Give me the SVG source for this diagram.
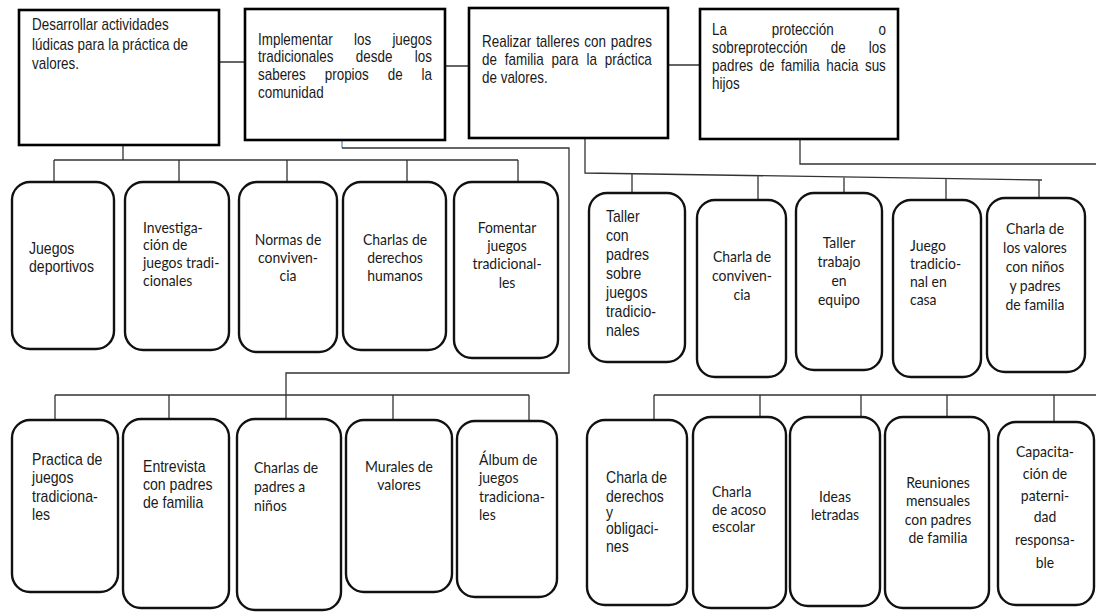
<svg xmlns="http://www.w3.org/2000/svg" width="1096" height="612" viewBox="0 0 1096 612">
<style>
.bg{fill:#fff}
.box{fill:#fff;stroke:#000;stroke-width:2.6}
.rb{fill:#fff;stroke:#111;stroke-width:2.4}
.ln{fill:none;stroke:#333;stroke-width:1.3}
.lb{fill:none;stroke:#5b8fd0;stroke-width:1.3}
.tt{font-family:"Liberation Sans",Arial,sans-serif;font-size:16px;fill:#1a1a1a}
.ta{font-family:"Liberation Sans",Arial,sans-serif;font-size:16px;fill:#1a1a1a}
.tc{font-family:Lato,"Open Sans",sans-serif;font-size:15.5px;fill:#1a1a1a}
.m{text-anchor:middle}
</style>
<rect class="bg" width="1096" height="612"/>
<g id="connectors">
<path class="ln" d="M219,62H245M445,66H469M668,65H700"/>
<path class="ln" d="M123,145V160M54,160H518M54,160V182M179,160V182M287,160V182M407,160V182M518,160V182"/>
<path class="lb" d="M342,140V148"/>
<path class="ln" d="M342,148H569V373H286V420M55,395H529M55,395V420M169,395V419M393,395V420M529,395V421"/>
<path class="ln" d="M585,138V173L1042,180M632,174V193M758,176V200M844,177V193M946,179V200M1039,180V198"/>
<path class="ln" d="M800,139V164H1096"/>
<path class="ln" d="M654,395H1096M654,395V420M760,395V417M861,395V417M947,395V417M1054,395V422"/>
</g>
<g id="n1"><rect class="box" x="19" y="10" width="200" height="135"/>
<text class="tt" transform="translate(32,30) scale(.84,1)">Desarrollar actividades</text>
<text class="tt" transform="translate(32,50) scale(.84,1)">lúdicas para la práctica de</text>
<text class="tt" transform="translate(32,69) scale(.84,1)">valores.</text></g>
<g id="n2"><rect class="box" x="245" y="9" width="200" height="131"/>
<text class="tt" transform="translate(258,45) scale(.84,1)" style="word-spacing:20.9px">Implementar los juegos</text>
<text class="tt" transform="translate(258,62) scale(.84,1)" style="word-spacing:22.2px">tradicionales desde los</text>
<text class="tt" transform="translate(258,80) scale(.84,1)" style="word-spacing:18.1px">saberes propios de la</text>
<text class="tt" transform="translate(258,98) scale(.84,1)">comunidad</text></g>
<g id="n3"><rect class="box" x="469" y="8" width="199" height="130"/>
<text class="tt" transform="translate(482,47) scale(.84,1)" style="word-spacing:1.35px">Realizar talleres con padres</text>
<text class="tt" transform="translate(482,65) scale(.84,1)" style="word-spacing:5px">de familia para la práctica</text>
<text class="tt" transform="translate(482,83) scale(.84,1)">de valores.</text></g>
<g id="n4"><rect class="box" x="700" y="9" width="198" height="130"/>
<text class="tt" transform="translate(712,35) scale(.84,1)" style="word-spacing:48.9px">La protección o</text>
<text class="tt" transform="translate(712,53) scale(.84,1)" style="word-spacing:23.1px">sobreprotección de los</text>
<text class="tt" transform="translate(712,71) scale(.84,1)" style="word-spacing:3.3px">padres de familia hacia sus</text>
<text class="tt" transform="translate(712,89) scale(.84,1)">hijos</text></g>
<g id="a"><rect class="rb" x="12" y="182" width="102" height="167" rx="18"/>
<text class="ta" transform="translate(29,254) scale(.88,1)">Juegos</text><text class="ta" transform="translate(29,272) scale(.88,1)">deportivos</text></g>
<g id="b"><rect class="rb" x="125" y="182" width="104" height="168" rx="18"/>
<text class="tc" transform="translate(143,233) scale(.9,1)">Investiga-</text><text class="tc" transform="translate(143,250) scale(.9,1)">ción de</text><text class="tc" transform="translate(143,268) scale(.9,1)">juegos tradi-</text><text class="tc" transform="translate(143,286) scale(.9,1)">cionales</text></g>
<g id="c"><rect class="rb" x="239" y="182" width="98" height="170" rx="18"/>
<text class="tc m" transform="translate(288,245) scale(.9,1)">Normas de</text><text class="tc m" transform="translate(288,263) scale(.9,1)">conviven-</text><text class="tc m" transform="translate(288,281) scale(.9,1)">cia</text></g>
<g id="d"><rect class="rb" x="343" y="182" width="103" height="168" rx="18"/>
<text class="tc m" transform="translate(395,245) scale(.9,1)">Charlas de</text><text class="tc m" transform="translate(395,263) scale(.9,1)">derechos</text><text class="tc m" transform="translate(395,281) scale(.9,1)">humanos</text></g>
<g id="e"><rect class="rb" x="454" y="182" width="104" height="176" rx="18"/>
<text class="tc m" transform="translate(507,233) scale(.9,1)">Fomentar</text><text class="tc m" transform="translate(507,251) scale(.9,1)">juegos</text><text class="tc m" transform="translate(507,269) scale(.9,1)">tradicional-</text><text class="tc m" transform="translate(507,288) scale(.9,1)">les</text></g>
<g id="k"><rect class="rb" x="589" y="193" width="96" height="169" rx="18"/>
<text class="ta" transform="translate(606,222) scale(.88,1)">Taller</text><text class="ta" transform="translate(606,241) scale(.88,1)">con</text><text class="ta" transform="translate(606,260) scale(.88,1)">padres</text><text class="ta" transform="translate(606,279) scale(.88,1)">sobre</text><text class="ta" transform="translate(606,298) scale(.88,1)">juegos</text><text class="ta" transform="translate(606,317) scale(.88,1)">tradicio-</text><text class="ta" transform="translate(606,336) scale(.88,1)">nales</text></g>
<g id="l"><rect class="rb" x="697" y="200" width="89" height="177" rx="18"/>
<text class="tc m" transform="translate(742,262) scale(.9,1)">Charla de</text><text class="tc m" transform="translate(742,281) scale(.9,1)">conviven-</text><text class="tc m" transform="translate(742,300) scale(.9,1)">cia</text></g>
<g id="mm"><rect class="rb" x="796" y="193" width="86" height="177" rx="18"/>
<text class="tc m" transform="translate(839,248) scale(.9,1)">Taller</text><text class="tc m" transform="translate(839,267) scale(.9,1)">trabajo</text><text class="tc m" transform="translate(839,286) scale(.9,1)">en</text><text class="tc m" transform="translate(839,305) scale(.9,1)">equipo</text></g>
<g id="n"><rect class="rb" x="893" y="200" width="88" height="177" rx="18"/>
<text class="tc" transform="translate(910,251) scale(.9,1)">Juego</text><text class="tc" transform="translate(910,269) scale(.9,1)">tradicio-</text><text class="tc" transform="translate(910,287) scale(.9,1)">nal en</text><text class="tc" transform="translate(910,305) scale(.9,1)">casa</text></g>
<g id="o"><rect class="rb" x="987" y="198" width="98" height="174" rx="18"/>
<text class="tc m" transform="translate(1035,234) scale(.9,1)">Charla de</text><text class="tc m" transform="translate(1035,253) scale(.9,1)">los valores</text><text class="tc m" transform="translate(1035,272) scale(.9,1)">con niños</text><text class="tc m" transform="translate(1035,291) scale(.9,1)">y padres</text><text class="tc m" transform="translate(1035,310) scale(.9,1)">de familia</text></g>
<g id="f"><rect class="rb" x="12" y="420" width="106" height="172" rx="18"/>
<text class="ta" transform="translate(32,465) scale(.88,1)">Practica de</text><text class="ta" transform="translate(32,483) scale(.88,1)">juegos</text><text class="ta" transform="translate(32,502) scale(.88,1)">tradiciona-</text><text class="ta" transform="translate(32,520) scale(.88,1)">les</text></g>
<g id="g"><rect class="rb" x="123" y="419" width="106" height="189" rx="18"/>
<text class="ta" transform="translate(143,472) scale(.88,1)">Entrevista</text><text class="ta" transform="translate(143,490) scale(.88,1)">con padres</text><text class="ta" transform="translate(143,508) scale(.88,1)">de familia</text></g>
<g id="h"><rect class="rb" x="237" y="419" width="104" height="191" rx="18"/>
<text class="tc" transform="translate(254,473) scale(.9,1)">Charlas de</text><text class="tc" transform="translate(254,492) scale(.9,1)">padres a</text><text class="tc" transform="translate(254,511) scale(.9,1)">niños</text></g>
<g id="i"><rect class="rb" x="346" y="420" width="106" height="172" rx="18"/>
<text class="tc m" transform="translate(399,472) scale(.9,1)">Murales de</text><text class="tc m" transform="translate(399,490) scale(.9,1)">valores</text></g>
<g id="j"><rect class="rb" x="457" y="421" width="100" height="176" rx="18"/>
<text class="tc" transform="translate(479,465) scale(.9,1)">Álbum de</text><text class="tc" transform="translate(479,483) scale(.9,1)">juegos</text><text class="tc" transform="translate(479,502) scale(.9,1)">tradiciona-</text><text class="tc" transform="translate(479,520) scale(.9,1)">les</text></g>
<g id="p"><rect class="rb" x="587" y="420" width="100" height="185" rx="18"/>
<text class="ta" transform="translate(606,483) scale(.88,1)">Charla de</text><text class="ta" transform="translate(606,502) scale(.88,1)">derechos</text><text class="ta" transform="translate(606,518) scale(.88,1)">y</text><text class="ta" transform="translate(606,534) scale(.88,1)">obligaci-</text><text class="ta" transform="translate(606,552) scale(.88,1)">nes</text></g>
<g id="q"><rect class="rb" x="693" y="417" width="93" height="191" rx="18"/>
<text class="tc" transform="translate(712,497) scale(.9,1)">Charla</text><text class="tc" transform="translate(712,515) scale(.9,1)">de acoso</text><text class="tc" transform="translate(712,532) scale(.9,1)">escolar</text></g>
<g id="r"><rect class="rb" x="790" y="417" width="90" height="189" rx="18"/>
<text class="tc m" transform="translate(835,502) scale(.9,1)">Ideas</text><text class="tc m" transform="translate(835,520) scale(.9,1)">letradas</text></g>
<g id="s"><rect class="rb" x="885" y="417" width="104" height="191" rx="18"/>
<text class="tc m" transform="translate(938,488) scale(.9,1)">Reuniones</text><text class="tc m" transform="translate(938,506) scale(.9,1)">mensuales</text><text class="tc m" transform="translate(938,525) scale(.9,1)">con padres</text><text class="tc m" transform="translate(938,543) scale(.9,1)">de familia</text></g>
<g id="t"><rect class="rb" x="998" y="422" width="96" height="183" rx="18"/>
<text class="tc m" transform="translate(1045,457) scale(.9,1)">Capacita-</text><text class="tc m" transform="translate(1045,479) scale(.9,1)">ción de</text><text class="tc m" transform="translate(1045,501) scale(.9,1)">paterni-</text><text class="tc m" transform="translate(1045,522) scale(.9,1)">dad</text><text class="tc m" transform="translate(1045,545) scale(.9,1)">responsa-</text><text class="tc m" transform="translate(1045,568) scale(.9,1)">ble</text></g>
</svg>
